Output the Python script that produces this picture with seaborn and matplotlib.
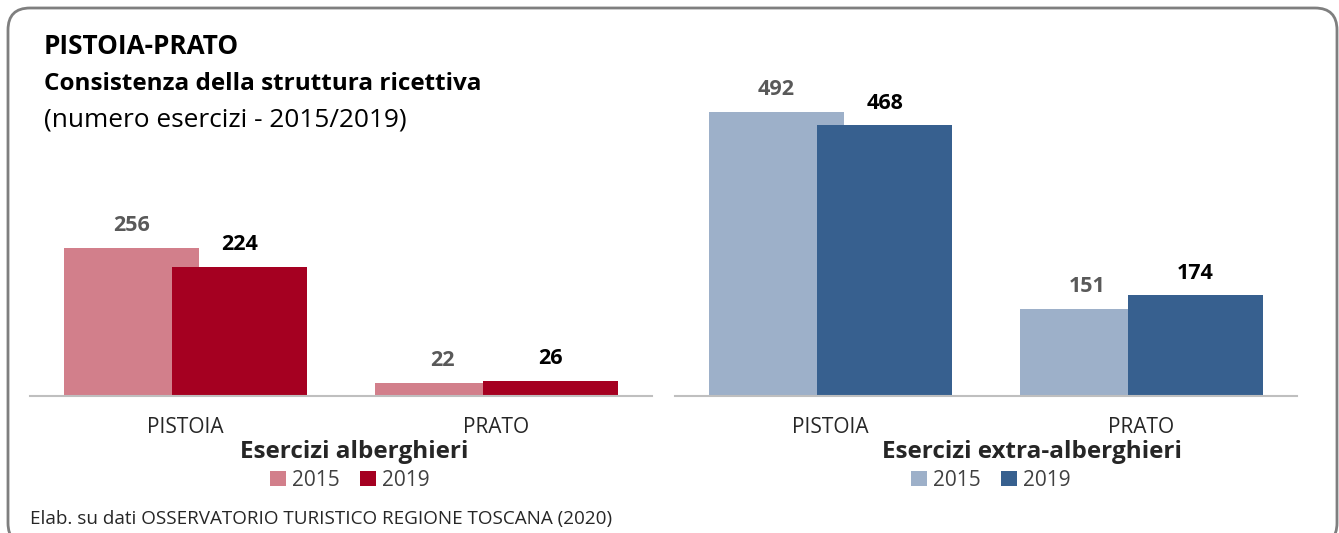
import matplotlib
matplotlib.use("Agg")
import matplotlib.pyplot as plt
import matplotlib.patches as mpatches
import seaborn as sns
import pandas as pd

# ---- data ----
places = ["PISTOIA", "PRATO"]
years = ["2015", "2019"]
alberghieri_2015 = [256, 22]
alberghieri_2019 = [224, 26]
extra_2015 = [492, 151]
extra_2019 = [468, 174]

title1 = "PISTOIA-PRATO"
title2 = "Consistenza della struttura ricettiva"
title3 = "(numero esercizi - 2015/2019)"
panel_titles = ["Esercizi alberghieri", "Esercizi extra-alberghieri"]
footer = "Elab. su dati OSSERVATORIO TURISTICO REGIONE TOSCANA (2020)"

pal_alb = ["#D27F8B", "#A50021"]
pal_ext = ["#9DB0C9", "#37608F"]

sns.set_theme(style="white")
plt.rcParams["font.family"] = ["Open Sans", "DejaVu Sans"]

W, H = 1339, 533
fig = plt.figure(figsize=(W / 100, H / 100), dpi=100)


def make_df(v15, v19):
    return pd.DataFrame({
        "place": places * 2,
        "year": [years[0]] * len(places) + [years[1]] * len(places),
        "value": list(v15) + list(v19),
    })


def panel(rect, df, pal):
    ax = fig.add_axes(rect)
    sns.barplot(data=df, x="place", y="value", hue="year", palette=pal,
                width=0.348 * 2, dodge=True, saturation=1, ax=ax,
                legend=True, errorbar=None)
    # widen bars so they overlap (2019 drawn on top)
    for p in ax.patches:
        c = p.get_x() + p.get_width() / 2
        p.set_width(0.434)
        p.set_x(c - 0.217)
        p.set_edgecolor("none")
    for cont, col in zip(ax.containers, ["#595959", "#000000"]):
        ax.bar_label(cont, padding=8.5, fontsize=15.5, fontweight="bold", color=col)
    ax.set_xlim(-0.5, 1.5)
    ax.set_ylim(0, 560)
    ax.set_xlabel("")
    ax.set_ylabel("")
    ax.set_yticks([])
    for s in ["top", "right", "left"]:
        ax.spines[s].set_visible(False)
    ax.spines["bottom"].set_color("#BFBFBF")
    ax.spines["bottom"].set_linewidth(1.5)
    ax.tick_params(axis="x", length=0, pad=15, labelsize=15, labelcolor="#262626")
    handles, labels = ax.get_legend_handles_labels()
    ax.get_legend().remove()
    return ax, handles, labels


ax_h = 323.7 / H
bottom = (H - 396) / H
axL, hL, lL = panel([30 / W, bottom, 622 / W, ax_h], make_df(alberghieri_2015, alberghieri_2019), pal_alb)
axR, hR, lR = panel([675 / W, bottom, 622 / W, ax_h], make_df(extra_2015, extra_2019), pal_ext)

# titles
fig.text(44 / W, 1 - 47 / H, title1, fontsize=18.8, fontweight="bold", va="center", color="#000000")
fig.text(44 / W, 1 - 84 / H, title2, fontsize=17.5, fontweight="bold", va="center", color="#000000")
fig.text(44 / W, 1 - 120 / H, title3, fontsize=18.9, va="center", color="#000000")

fig.text(354 / W, 1 - 452 / H, panel_titles[0], fontsize=17.5, fontweight="bold", ha="center", va="center")
fig.text(1032 / W, 1 - 452 / H, panel_titles[1], fontsize=17.5, fontweight="bold", ha="center", va="center")

for handles, labels, xc in [(hL, lL, 350), (hR, lR, 991)]:
    fig.legend(handles, labels, loc="center", bbox_to_anchor=(xc / W, 1 - 480 / H),
               ncol=2, frameon=False, fontsize=15, handlelength=0.75, handleheight=0.75,
               handletextpad=0.3, columnspacing=1.0, labelcolor="#404040")

fig.text(30 / W, 1 - 519 / H, footer, fontsize=13.6, va="center", color="#262626")

border = mpatches.FancyBboxPatch((0.08, -0.12), 13.29, 5.37,
                                 boxstyle="round,pad=0,rounding_size=0.22",
                                 transform=fig.dpi_scale_trans, fill=False,
                                 edgecolor="#7F7F7F", linewidth=2)
fig.add_artist(border)

fig.savefig("out.png", dpi=100)
